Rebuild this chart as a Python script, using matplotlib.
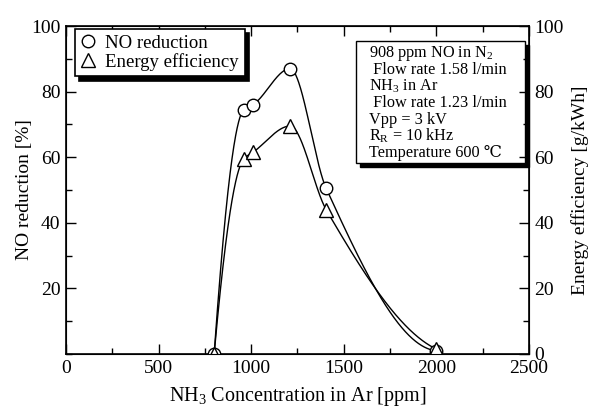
import numpy as np
import matplotlib
matplotlib.use("Agg")
import matplotlib.pyplot as plt
import matplotlib.transforms as mtransforms
from matplotlib.patches import Rectangle

plt.rcParams['font.family'] = ['Liberation Serif', 'DejaVu Serif']
plt.rcParams['mathtext.fontset'] = 'custom'
plt.rcParams['mathtext.rm'] = 'Liberation Serif'
plt.rcParams['mathtext.default'] = 'regular'

# ---- data ----
nh3_ppm = [800, 960, 1010, 1210, 1405, 2000]
no_reduction = [0, 74.5, 76, 87, 50.5, 1.0]
energy_eff = [0, 59.5, 61.5, 69.5, 44, 1.5]
x_ticks = [0, 500, 1000, 1500, 2000, 2500]
y_left_ticks = [20, 40, 60, 80, 100]
y_right_ticks = [0, 20, 40, 60, 80, 100]
info_lines = ["908 ppm NO in N$_2$",
              " Flow rate 1.58 l/min",
              "NH$_3$ in Ar",
              " Flow rate 1.23 l/min",
              "Vpp = 3 kV",
              "R$_R$ = 10 kHz",
              "Temperature 600 \u2103"]


def pchip(x, y, xs):
    x = np.asarray(x, float); y = np.asarray(y, float)
    h = np.diff(x); d = np.diff(y) / h
    n = len(x); m = np.zeros(n)
    for k in range(1, n - 1):
        if d[k - 1] * d[k] <= 0:
            m[k] = 0
        else:
            w1 = 2 * h[k] + h[k - 1]; w2 = h[k] + 2 * h[k - 1]
            m[k] = (w1 + w2) / (w1 / d[k - 1] + w2 / d[k])
    def end(h0, h1, d0, d1):
        v = ((2 * h0 + h1) * d0 - h0 * d1) / (h0 + h1)
        if np.sign(v) != np.sign(d0):
            v = 0
        elif np.sign(d0) != np.sign(d1) and abs(v) > abs(3 * d0):
            v = 3 * d0
        return v
    m[0] = end(h[0], h[1], d[0], d[1])
    m[-1] = end(h[-1], h[-2], d[-1], d[-2])
    out = np.empty_like(xs)
    idx = np.clip(np.searchsorted(x, xs) - 1, 0, n - 2)
    for i, xv in enumerate(xs):
        k = idx[i]; t = (xv - x[k]) / h[k]
        h00 = 2*t**3 - 3*t**2 + 1; h10 = t**3 - 2*t**2 + t
        h01 = -2*t**3 + 3*t**2; h11 = t**3 - t**2
        out[i] = h00*y[k] + h10*h[k]*m[k] + h01*y[k+1] + h11*h[k]*m[k+1]
    return out


fig = plt.figure(figsize=(5.91, 4.11), dpi=100)
ax = fig.add_axes([0.1117, 0.1387, 0.7833, 0.798])

xs = np.linspace(nh3_ppm[0], nh3_ppm[-1], 600)
ax.plot(xs, pchip(nh3_ppm, no_reduction, xs), color='black', lw=1.0)
ax.plot(xs, pchip(nh3_ppm, energy_eff, xs), color='black', lw=1.0)
ax.plot(nh3_ppm, no_reduction, 'o', ms=9, mfc='white', mec='black', mew=1.0,
        label='NO reduction', zorder=3)
ax.plot(nh3_ppm, energy_eff, '^', ms=10, mfc='white', mec='black', mew=1.0,
        label='Energy efficiency', zorder=3)

ax.set_xlim(0, 2500)
ax.set_ylim(0, 100)
ax.set_xticks(x_ticks)
ax.set_xticks(np.arange(0, 2501, 250), minor=True)
ax.set_yticks(y_left_ticks)
ax.set_yticks(np.arange(0, 101, 10), minor=True)
ax.tick_params(which='both', direction='in', top=True, right=False,
               labelsize=14, width=1.0)
ax.tick_params(which='major', length=7, pad=4)
ax.tick_params(which='minor', length=4)
for s in ax.spines.values():
    s.set_linewidth(1.2)

ax.set_xlabel('NH$_3$ Concentration in Ar [ppm]', fontsize=14.5, labelpad=6)
ax.set_ylabel('NO reduction [%]', fontsize=14)
ax.yaxis.set_label_coords(-0.071, 0.5)

ax2 = ax.twinx()
ax2.set_ylim(0, 100)
ax2.set_yticks(y_right_ticks)
ax2.set_yticks(np.arange(0, 101, 10), minor=True)
ax2.tick_params(which='both', direction='in', labelsize=14, width=1.0)
ax2.tick_params(which='major', length=7, pad=4)
ax2.tick_params(which='minor', length=4)
ax2.set_ylabel('Energy efficiency [g/kWh]', fontsize=14)
ax2.yaxis.set_label_coords(1.091, 0.5)

leg = ax.legend(loc='upper left', bbox_to_anchor=(0.02, 0.99), fontsize=13.5,
                frameon=True, fancybox=False, edgecolor='black',
                handlelength=0.8, handletextpad=0.5, borderpad=0.3,
                labelspacing=0.05, borderaxespad=0.0,
                shadow={'color': 'black', 'alpha': 1.0, 'ox': 3, 'oy': -3})
leg.get_frame().set_linewidth(1.2)
leg.get_frame().set_alpha(1.0)

# info box with drop shadow
bx0, bx1, by0, by1 = 0.626, 0.991, 0.582, 0.954
shadow_tr = mtransforms.offset_copy(ax.transAxes, fig=fig, x=4, y=-4, units='dots')
ax.add_patch(Rectangle((bx0, by0), bx1 - bx0, by1 - by0, transform=shadow_tr,
                       fc='black', ec='black', lw=1.0, zorder=4, clip_on=False))
ax.add_patch(Rectangle((bx0, by0), bx1 - bx0, by1 - by0, transform=ax.transAxes,
                       fc='white', ec='black', lw=1.0, zorder=5, clip_on=False))
base0 = (354 - 57) / 328.0
step = 16.67 / 328.0
for i, line in enumerate(info_lines):
    ax.text(0.655, base0 - i * step, line, transform=ax.transAxes,
            fontsize=11.7, va='baseline', ha='left', zorder=6)

fig.savefig('out.png', dpi=100)
